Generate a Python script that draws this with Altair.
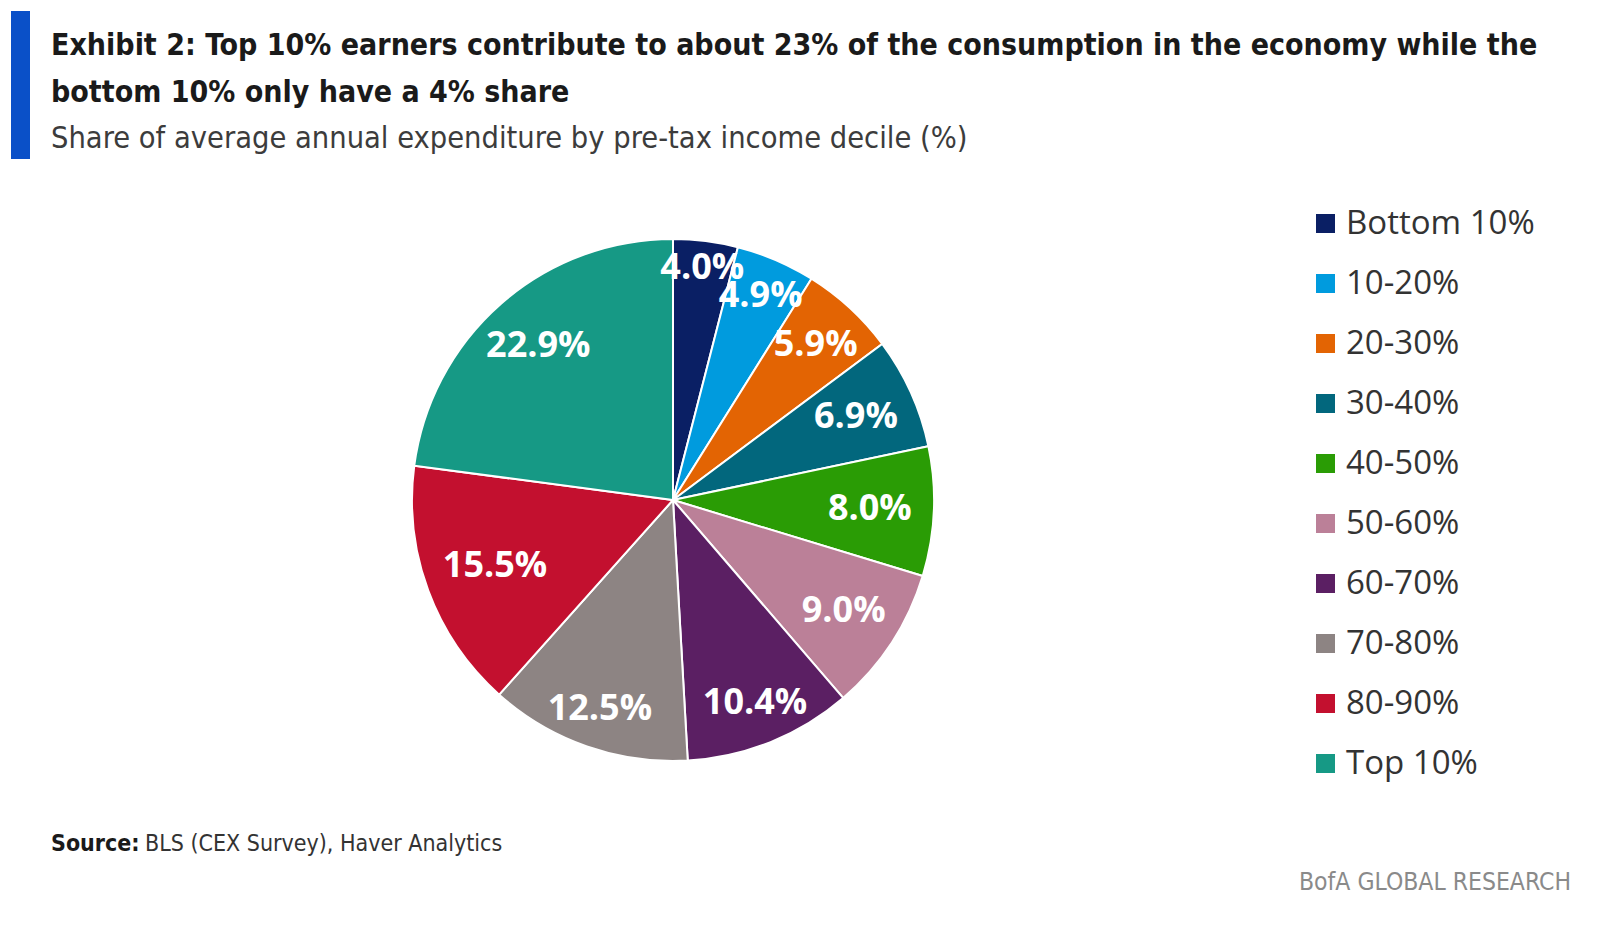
import altair as alt
import pandas as pd

# Share of average annual expenditure by pre-tax income decile (%)
deciles = ["Bottom 10%", "10-20%", "20-30%", "30-40%", "40-50%",
           "50-60%", "60-70%", "70-80%", "80-90%", "Top 10%"]
shares = [4.0, 4.9, 5.9, 6.9, 8.0, 9.0, 10.4, 12.5, 15.5, 22.9]
colors = ["#0a1f64", "#009bde", "#e36403", "#02677d", "#2a9c05",
          "#bb8098", "#5b1f63", "#8d8483", "#c3102f", "#169985"]

title_lines = [
    "Exhibit 2: Top 10% earners contribute to about 23% of the consumption in the economy while the",
    "bottom 10% only have a 4% share",
]
subtitle = "Share of average annual expenditure by pre-tax income decile (%)"
source_head = "Source:"
source_body = "BLS (CEX Survey), Haver Analytics"
brand = "BofA GLOBAL RESEARCH"

W, H = 1602, 925
CX, CY, R = 673, 500, 261
COND = "DejaVu Sans Condensed"
WIDE = "Open Sans"

df = pd.DataFrame({
    "decile": deciles,
    "share": shares,
    "idx": list(range(len(deciles))),
})
df["label"] = [f"{v:.1f}%" for v in shares]

base = alt.Chart(df)

pie = base.mark_arc(outerRadius=R, stroke="white", strokeWidth=2).encode(
    theta=alt.Theta("share:Q", stack=True),
    order=alt.Order("idx:Q"),
    color=alt.Color(
        "decile:N",
        sort=deciles,
        scale=alt.Scale(domain=deciles, range=colors),
        legend=alt.Legend(
            title=None,
            orient="none",
            legendX=1309,
            legendY=207,
            padding=0,
            symbolType="square",
            symbolSize=361,
            symbolStrokeWidth=0,
            symbolOpacity=1,
            labelFont=WIDE,
            labelFontSize=33,
            labelColor="#333333",
            labelOffset=4,
            rowPadding=26,
            labelLimit=400,
        ),
    ),
    x=alt.value(CX),
    y=alt.value(CY),
)

# Labels sit at each slice's mid-angle, pulled inward by the label's
# horizontal extent so the text stays inside the outer edge.
labels = base.transform_joinaggregate(
    total="sum(share)"
).transform_window(
    cum="sum(share)", sort=[alt.SortField("idx")]
).transform_calculate(
    mid="(datum.cum - datum.share / 2) / datum.total * 2 * PI",
).transform_calculate(
    dist=f"{R - 22} - length(datum.label) * 10.5 * abs(sin(datum.mid))",
).transform_calculate(
    lx=f"{CX} + datum.dist * sin(datum.mid)",
    ly=f"{CY} - datum.dist * cos(datum.mid)",
).mark_text(
    font=WIDE, fontSize=36, fontWeight="bold", color="white",
    align="center", baseline="middle",
).encode(
    x=alt.X("lx:Q", scale=None),
    y=alt.Y("ly:Q", scale=None),
    text="label:N",
)

one = alt.Chart(pd.DataFrame({"k": [0]}))

accent = one.mark_rect(color="#0a50c8").encode(
    x=alt.value(11), x2=alt.value(30), y=alt.value(11), y2=alt.value(159)
)

title1 = one.mark_text(
    font=COND, fontSize=30, fontWeight="bold", color="#1a1a1a",
    align="left", baseline="alphabetic",
).encode(x=alt.value(51), y=alt.value(55), text=alt.value(title_lines[0]))

title2 = one.mark_text(
    font=COND, fontSize=30, fontWeight="bold", color="#1a1a1a",
    align="left", baseline="alphabetic",
).encode(x=alt.value(51), y=alt.value(102), text=alt.value(title_lines[1]))

sub = one.mark_text(
    font=COND, fontSize=30.5, color="#3c3c3c",
    align="left", baseline="alphabetic",
).encode(x=alt.value(51), y=alt.value(148), text=alt.value(subtitle))

src_head = one.mark_text(
    font=COND, fontSize=23, fontWeight="bold", color="#1a1a1a",
    align="left", baseline="alphabetic",
).encode(x=alt.value(51), y=alt.value(851), text=alt.value(source_head))

src_body = one.mark_text(
    font=COND, fontSize=23, color="#333333",
    align="left", baseline="alphabetic",
).encode(x=alt.value(145), y=alt.value(851), text=alt.value(source_body))

brand_txt = one.mark_text(
    font=COND, fontSize=24.5, color="#8a8a8a",
    align="right", baseline="alphabetic",
).encode(x=alt.value(1571), y=alt.value(890), text=alt.value(brand))

chart = alt.layer(
    pie, labels, accent, title1, title2, sub, src_head, src_body, brand_txt
).properties(
    width=W, height=H, padding=0,
    autosize=alt.AutoSizeParams(type="none"),
    background="white",
).configure_view(stroke=None)

chart.save("out.html", embed_options={"renderer": "svg", "actions": False})
